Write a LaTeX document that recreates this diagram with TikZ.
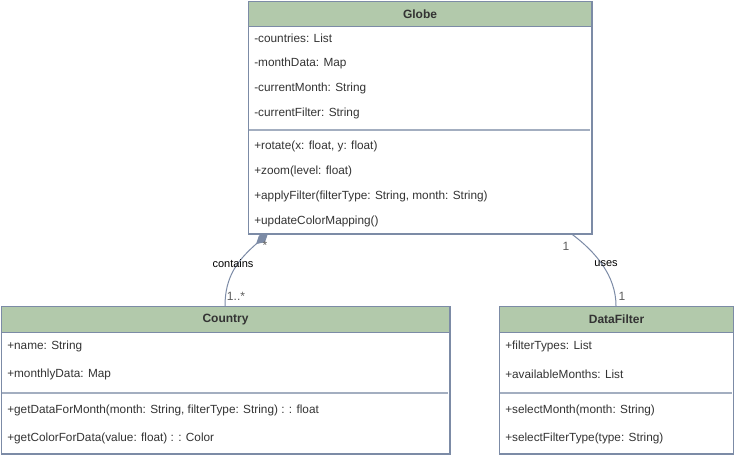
\documentclass[tikz,border=0pt]{standalone}
\usepackage{fontspec}
\setmainfont{Liberation Sans}
\usetikzlibrary{arrows.meta,positioning}
\definecolor{hdr}{HTML}{B2C9AB}
\definecolor{bord}{HTML}{7C8BA6}
\definecolor{sep}{HTML}{A3AEC0}
\definecolor{txt}{HTML}{333333}
\begin{document}
\begin{tikzpicture}[x=0.75pt,y=-0.75pt,
  classbox/.style={draw=bord,line width=0.75pt,fill=white,rectangle,anchor=north west,inner sep=0pt},
  hdrbox/.style={draw=bord,line width=0.75pt,fill=hdr,rectangle,anchor=north west,inner sep=0pt,minimum height=25*0.75pt,font=\fontsize{9}{11}\selectfont\bfseries,text=txt},
  member/.style={anchor=west,inner sep=0pt,font=\fontsize{8.85}{11}\selectfont,text=txt},
  seprule/.style={draw=sep,line width=1.3pt},
  conn/.style={draw=bord,line width=0.75pt},
  mult/.style={inner sep=0pt,font=\fontsize{9}{11}\selectfont,text=txt!80},
  rel/.style={inner sep=0pt,font=\fontsize{8.25}{10}\selectfont,text=black}]
\useasboundingbox (0,0) rectangle (734,457);
\fill[white] (0,0) rectangle (734,457);

% Globe
\node[classbox,minimum width=343*0.75pt,minimum height=232*0.75pt] (globe) at (248,1) {};
\node[hdrbox,minimum width=343*0.75pt] (globeh) at (248,1) {Globe};
\draw[seprule] (248.7,130) coordinate (gs1) -- (590.3,130) coordinate (gs2);
\node[member] (g1) at (254,38) {-countries: List};
\node[member] (g2) at (254,63) {-monthData: Map};
\node[member] (g3) at (254,88) {-currentMonth: String};
\node[member] (g4) at (254,113) {-currentFilter: String};
\node[member] (g5) at (254,146) {+rotate(x: float, y: float)};
\node[member] (g6) at (254,171) {+zoom(level: float)};
\node[member] (g7) at (254,196) {+applyFilter(filterType: String, month: String)};
\node[member] (g8) at (254,221) {+updateColorMapping()};
\draw[bord,line width=0.75pt] (globe.north west) rectangle (globe.south east);

% Country
\node[classbox,minimum width=448*0.75pt,minimum height=147*0.75pt] (country) at (1,306) {};
\node[hdrbox,minimum width=448*0.75pt,minimum height=26*0.75pt] (countryh) at (1,306) {Country};
\draw[seprule] (1.6,393) -- (448.4,393);
\node[member] (c1) at (7,346) {+name: String};
\node[member] (c2) at (7,374) {+monthlyData: Map};
\node[member] (c3) at (7,410) {+getDataForMonth(month: String, filterType: String) : : float};
\node[member] (c4) at (7,438) {+getColorForData(value: float) : : Color};
\draw[bord,line width=0.75pt] (country.north west) rectangle (country.south east);

% DataFilter
\node[classbox,minimum width=234*0.75pt,minimum height=147*0.75pt] (filter) at (499,306) {};
\node[hdrbox,minimum width=234*0.75pt,minimum height=26*0.75pt] (filterh) at (499,306) {DataFilter};
\draw[seprule] (499.6,393) -- (732.4,393);
\node[member] (f1) at (505,346) {+filterTypes: List};
\node[member] (f2) at (505,374) {+availableMonths: List};
\node[member] (f3) at (505,410) {+selectMonth(month: String)};
\node[member] (f4) at (505,438) {+selectFilterType(type: String)};
\draw[bord,line width=0.75pt] (filter.north west) rectangle (filter.south east);

% connectors
\coordinate (ca) at (225,306);
\coordinate (cb) at (268,233.5);
\draw[conn,-{Diamond[fill=bord,length=16*0.75pt,width=9*0.75pt]}] (ca) .. controls (225,276) and (238,260) .. (cb);
\coordinate (ua) at (571,233.5);
\coordinate (ub) at (616,306);
\draw[conn] (ua) .. controls (596,252) and (616,276) .. (ub);

\node[mult] (m1) at (265,245) {*};
\node[rel] (l1) at (233,264) {contains};
\node[mult] (m2) at (236,296) {1..*};
\node[mult] (m3) at (566,246) {1};
\node[rel] (l2) at (606,264) {uses};
\node[mult] (m4) at (622,296) {1};
\end{tikzpicture}
\end{document}
